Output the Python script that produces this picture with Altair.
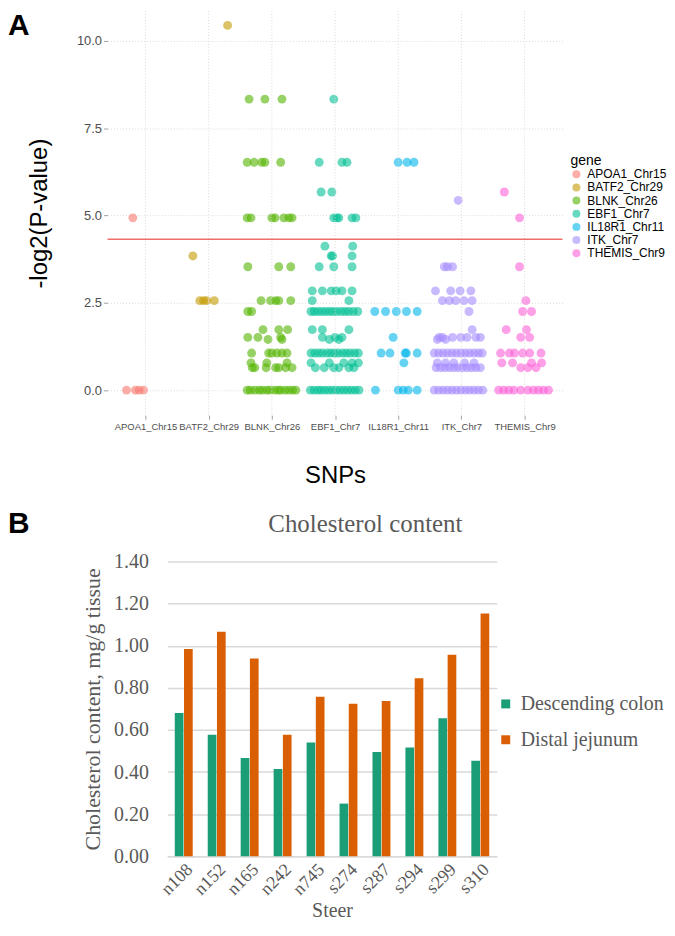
import json
import altair as alt
import pandas as pd

# ---------------- Panel A data ----------------
genes = ["APOA1_Chr15", "BATF2_Chr29", "BLNK_Chr26", "EBF1_Chr7",
         "IL18R1_Chr11", "ITK_Chr7", "THEMIS_Chr9"]
gene_colors = ["#F8766D", "#C49A00", "#53B400", "#00C094",
               "#00B6EB", "#A58AFF", "#FB61D7"]

# -log2(P) value -> horizontal jitter of each SNP (category units)
apoa1 = {4.93: [-0.20], 0.00: [-0.30, -0.16, -0.10, -0.03]}
batf2 = {10.44: [0.30], 3.84: [-0.25], 2.56: [-0.14, -0.08, -0.03, 0.09]}
blnk = {
    8.33: [-0.36, -0.11, 0.16],
    6.52: [-0.39, -0.28, -0.16, -0.11, 0.14],
    4.93: [-0.39, -0.33, 0.00, 0.05, 0.19, 0.27, 0.32],
    3.53: [-0.38, 0.11, 0.30],
    2.56: [-0.17, -0.02, 0.06, 0.11, 0.30],
    2.25: [-0.38, -0.32],
    1.73: [-0.14, 0.11, 0.25],
    1.51: [-0.38, -0.22, 0.14],
    1.45: [-0.06, 0.16],
    1.06: [-0.32, -0.05, 0.00, 0.08, 0.16, 0.24],
    0.78: [-0.33, -0.08, 0.24],
    0.64: [-0.31, -0.27, -0.09, 0.06, 0.11, 0.22, 0.32],
    0.00: [-0.39, -0.34, -0.27, -0.20, -0.15, -0.08, -0.03, 0.04, 0.10,
           0.14, 0.21, 0.27, 0.33, 0.38],
}
ebf1 = {
    8.33: [-0.02],
    6.52: [-0.25, 0.11, 0.19],
    5.67: [-0.22, -0.05],
    4.93: [-0.02, 0.03, 0.06, 0.27, 0.33],
    4.12: [-0.16, 0.28],
    3.84: [-0.06, -0.04, 0.27],
    3.53: [-0.25, -0.02, 0.27],
    2.84: [-0.36, -0.20, -0.06, 0.02, 0.11, 0.27],
    2.56: [-0.36, 0.22],
    2.25: [-0.38, -0.33, -0.27, -0.21, -0.15, -0.09, -0.03, 0.03, 0.10,
           0.16, 0.22, 0.29, 0.36],
    1.73: [-0.36, -0.20, 0.22],
    1.51: [-0.20, 0.00, 0.11],
    1.45: [-0.09, 0.06],
    1.06: [-0.38, -0.32, -0.26, -0.20, -0.13, -0.07, -0.01, 0.05, 0.12,
           0.18, 0.24, 0.31, 0.37],
    0.78: [-0.38, -0.09, 0.14, 0.27, 0.37],
    0.64: [-0.31, -0.17, -0.02, 0.06, 0.22, 0.30],
    0.00: [-0.39, -0.33, -0.27, -0.22, -0.16, -0.10, -0.04, 0.02, 0.08,
           0.14, 0.20, 0.26, 0.32, 0.38],
}
il18r1 = {
    6.52: [0.00, 0.14, 0.25],
    2.25: [-0.37, -0.20, -0.03, 0.13, 0.30],
    1.51: [-0.08],
    1.06: [-0.27, -0.13, 0.11, 0.13, 0.30],
    0.78: [0.09],
    0.00: [-0.36, 0.00, 0.08, 0.16, 0.30],
}
itk = {
    5.43: [-0.05],
    3.53: [-0.27, -0.22, -0.14],
    2.84: [-0.41, -0.17, -0.02, 0.15],
    2.56: [-0.30, -0.19, -0.09, 0.04, 0.17],
    2.25: [0.12],
    1.73: [0.17],
    1.51: [-0.35, -0.30, -0.14, -0.01, 0.09, 0.23, 0.30],
    1.45: [-0.38, -0.25],
    1.06: [-0.43, -0.36, -0.29, -0.22, -0.15, -0.08, -0.01, 0.06, 0.13,
           0.20, 0.27, 0.33],
    0.78: [-0.38, -0.25, -0.12, 0.05, 0.20],
    0.64: [-0.40, -0.33, -0.26, -0.19, -0.12, -0.05, 0.02, 0.09, 0.16,
           0.23, 0.30],
    0.00: [-0.43, -0.36, -0.29, -0.22, -0.15, -0.08, -0.01, 0.06, 0.13,
           0.20, 0.27, 0.34],
}
themis = {
    5.67: [-0.32],
    4.93: [-0.08],
    3.53: [-0.08],
    2.56: [0.02],
    2.25: [-0.03, 0.11],
    1.73: [-0.29, 0.03],
    1.51: [-0.06, 0.08],
    1.06: [-0.38, -0.24, -0.16, -0.03, 0.08, 0.26],
    0.78: [-0.36, -0.19, 0.11, 0.27],
    0.64: [-0.06, 0.05, 0.18],
    0.00: [-0.41, -0.33, -0.25, -0.17, -0.06, 0.05, 0.14, 0.22, 0.30, 0.38],
}
threshold = [4.32]          # -log2(0.05)
x_domain_a = [0.4, 7.6]
y_domain_a = [-0.72, 10.85]
x_ticks_a = [1, 2, 3, 4, 5, 6, 7]
y_ticks_a = [0, 2.5, 5, 7.5, 10]

# ---------------- Panel B data ----------------
steers = ["n108", "n152", "n165", "n242", "n745",
          "s274", "s287", "s294", "s299", "s310"]
tissues = ["Descending colon", "Distal jejunum"]
colon = [0.68, 0.577, 0.467, 0.415, 0.54, 0.25, 0.495, 0.517, 0.656, 0.454]
jejunum = [0.985, 1.066, 0.94, 0.577, 0.758, 0.724, 0.737, 0.845, 0.957, 1.153]
tissue_colors = ["#1B9E77", "#D95F02"]
y_ticks_b = [0, 0.2, 0.4, 0.6, 0.8, 1.0, 1.2, 1.4]

# ---------------- build tables ----------------
rows = []
for i, (g, pts) in enumerate(zip(genes, [apoa1, batf2, blnk, ebf1, il18r1, itk, themis])):
    for val, offs in pts.items():
        for o in offs:
            rows.append({"gene": g, "pos": i + 1 + o, "logp": val})
dfA = pd.DataFrame(rows)
dfThr = pd.DataFrame({"logp": threshold, "x0": [x_domain_a[0]], "x1": [x_domain_a[1]]})
dfVGrid = pd.DataFrame({"pos": x_ticks_a,
                        "y0": [y_domain_a[0]] * len(x_ticks_a),
                        "y1": [y_domain_a[1]] * len(x_ticks_a)})

rowsB = []
for s, c, j in zip(steers, colon, jejunum):
    rowsB.append({"steer": s, "tissue": tissues[0], "value": c})
    rowsB.append({"steer": s, "tissue": tissues[1], "value": j})
dfB = pd.DataFrame(rowsB)

SANS = "Liberation Sans"
SERIF = "Liberation Serif"
label_expr = json.dumps([""] + genes) + "[datum.value]"

# ---------------- canvas geometry (one shared drawing area) ----------------
W, H = 655, 914
A_L, A_R, A_T, A_B = 100, 557, 0, 406      # panel A plot rectangle
B_L, B_R, B_T, B_B = 160, 491, 553, 849    # panel B plot rectangle

# ---------------- Panel A ----------------
xA = alt.X("pos:Q",
           scale=alt.Scale(domain=x_domain_a, nice=False, zero=False, range=[A_L, A_R]),
           axis=alt.Axis(values=x_ticks_a, labelExpr=label_expr,
                         orient="bottom", offset=A_B - H,
                         title="SNPs", titleFont=SANS, titleFontSize=24,
                         titleFontWeight="normal", titleColor="black", titlePadding=33,
                         labelFont=SANS, labelFontSize=9.5, labelColor="#4D4D4D",
                         labelPadding=2, labelOverlap=False, labelFlush=False,
                         domain=False, ticks=True, tickSize=4, tickColor="#A0A0A0",
                         grid=False))
yA = alt.Y("logp:Q",
           scale=alt.Scale(domain=y_domain_a, nice=False, zero=False, range=[A_B, A_T]),
           axis=alt.Axis(values=y_ticks_a, format=".1f",
                         orient="left", offset=-A_L,
                         title="-log2(P-value)", titleFont=SANS, titleFontSize=24,
                         titleFontWeight="normal", titleColor="black", titlePadding=25,
                         labelFont=SANS, labelFontSize=13, labelColor="#4D4D4D",
                         labelPadding=2, domain=False, ticks=True, tickSize=4,
                         tickColor="#A0A0A0", grid=True, gridColor="#DADADA",
                         gridDash=[1, 2]))

vgrid = alt.Chart(dfVGrid).mark_rule(color="#DADADA", strokeWidth=1,
                                      strokeDash=[1, 2]).encode(
    x=alt.X("pos:Q"), y=alt.Y("y0:Q"), y2="y1")
points = alt.Chart(dfA).mark_circle(size=80, opacity=0.6).encode(
    x=xA, y=yA,
    color=alt.Color("gene:N",
                    scale=alt.Scale(domain=genes, range=gene_colors),
                    legend=alt.Legend(title="gene", orient="none", legendX=565, legendY=144,
                                      titleFont=SANS, titleFontSize=14,
                                      titleFontWeight="normal", titleColor="black",
                                      titlePadding=0, labelFont=SANS, labelFontSize=12,
                                      labelColor="black", symbolType="circle",
                                      symbolSize=64, symbolOpacity=0.6, rowPadding=1.2,
                                      labelOffset=5, padding=0)),
)
rule = alt.Chart(dfThr).mark_rule(color="#EE6E6A", strokeWidth=1.5).encode(
    x=alt.X("x0:Q"), x2="x1", y=alt.Y("logp:Q"))
panelA = alt.layer(points, vgrid, rule)

letterA = alt.Chart(pd.DataFrame({"label": ["A"]})).mark_text(
    align="left", baseline="alphabetic", font=SANS, fontSize=30, fontWeight="bold",
    color="black").encode(x=alt.value(0), y=alt.value(24), text="label:N")

# ---------------- Panel B ----------------
bars = alt.Chart(dfB).mark_bar().encode(
    x=alt.X("steer:N", sort=steers,
            scale=alt.Scale(paddingInner=0.456, paddingOuter=0.228, range=[B_L, B_R]),
            axis=alt.Axis(orient="bottom", offset=B_B - H,
                          title="Steer", titleFont=SERIF, titleFontSize=20,
                          titleFontWeight="normal", titleColor="#595959", titlePadding=2,
                          labelFont=SERIF, labelFontSize=18, labelColor="#595959",
                          labelAngle=-45, labelAlign="right", labelBaseline="top",
                          labelPadding=4, ticks=False, domain=True,
                          domainColor="#D9D9D9", domainWidth=1.5, grid=False)),
    xOffset=alt.XOffset("tissue:N", sort=tissues,
                        scale=alt.Scale(paddingInner=0.06)),
    y=alt.Y("value:Q", scale=alt.Scale(domain=[0, 1.4], nice=False, range=[B_B, B_T]),
            axis=alt.Axis(values=y_ticks_b, format=".2f", orient="left", offset=-B_L,
                          title="Cholesterol content, mg/g tissue", titleFont=SERIF,
                          titleFontSize=22, titleFontWeight="normal",
                          titleColor="#595959", titlePadding=9,
                          labelFont=SERIF, labelFontSize=20, labelColor="#595959",
                          labelPadding=19, domain=False, ticks=False, grid=True,
                          gridColor="#D9D9D9", gridWidth=1.5)),
    color=alt.Color("tissue:N",
                    scale=alt.Scale(domain=tissues, range=tissue_colors),
                    legend=alt.Legend(title=None, orient="none", legendX=490, legendY=686,
                                      symbolType="square", symbolSize=81,
                                      labelFont=SERIF, labelFontSize=20,
                                      labelColor="#595959", rowPadding=16,
                                      labelOffset=5, padding=0)),
)
letterB = alt.Chart(pd.DataFrame({"label": ["B"]})).mark_text(
    align="left", baseline="alphabetic", font=SANS, fontSize=30, fontWeight="bold",
    color="black").encode(x=alt.value(0), y=alt.value(524), text="label:N")
titleB = alt.Chart(pd.DataFrame({"label": ["Cholesterol content"]})).mark_text(
    align="center", baseline="alphabetic", font=SERIF, fontSize=25,
    color="#595959").encode(x=alt.value(359), y=alt.value(523), text="label:N")

chart = alt.layer(panelA, bars, letterA, letterB, titleB).resolve_scale(
    x="independent", y="independent", color="independent"
).resolve_axis(x="independent", y="independent").resolve_legend(
    color="independent"
).properties(width=W, height=H, padding=0).configure_view(stroke=None)

chart.save("out.html", embed_options={"renderer": "svg", "actions": False})
